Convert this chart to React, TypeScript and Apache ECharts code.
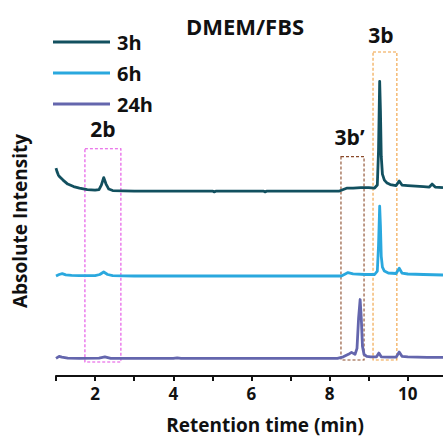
import React, { useEffect, useRef } from "react";
import * as echarts from "echarts";

// Chromatogram traces (retention time in min, intensity above each trace's baseline, a.u.)
const t3h = [1.0, 1.03, 1.06, 1.1, 1.18, 1.3, 1.45, 1.6, 1.8, 2.0, 2.1, 2.16, 2.22, 2.28, 2.35, 2.45, 3.0, 4.0, 5.0, 5.05, 5.1, 6.0, 6.3, 6.35, 6.4, 7.0, 8.0, 8.25, 8.35, 8.45, 8.6, 8.8, 9.0, 9.15, 9.22, 9.25, 9.28, 9.3, 9.32, 9.35, 9.4, 9.47, 9.55, 9.7, 9.78, 9.85, 10.0, 10.2, 10.4, 10.55, 10.62, 10.7, 10.9];
const v3h = [23, 19, 16, 14, 11, 7, 4.5, 3, 1.5, 1, 1.5, 6, 13.5, 7, 2, 0.5, 0, 0, 0, -0.8, 0, 0, 0, -0.8, 0, 0, 0, 0, 1.5, 3, 3, 3.5, 3.5, 3, 6, 40, 110, 80, 35, 17, 11, 8, 6.5, 5.5, 10, 6, 5.5, 5, 4.5, 4, 7, 4, 3.5];

const t6h = [1.0, 1.08, 1.16, 1.25, 1.4, 1.6, 2.0, 2.12, 2.22, 2.32, 2.45, 3, 4, 5, 6, 7, 8, 8.3, 8.4, 8.47, 8.6, 8.9, 9.15, 9.22, 9.25, 9.28, 9.3, 9.32, 9.35, 9.4, 9.5, 9.7, 9.78, 9.85, 10.0, 10.4, 10.9];
const v6h = [0, 1.5, 2.4, 1.2, 0.6, 0.3, 0.3, 1.5, 4, 1.5, 0.3, 0, 0, 0, 0, 0, 0, 0, 2, 3.4, 2.2, 1.5, 1.5, 5, 30, 70, 50, 20, 9, 5, 3, 2.5, 7.7, 3, 2, 1.5, 1];

const t24h = [1.0, 1.08, 1.15, 1.3, 1.6, 2.1, 2.25, 2.4, 3, 4, 4.1, 4.2, 5, 6, 7, 8, 8.2, 8.35, 8.48, 8.56, 8.65, 8.7, 8.74, 8.78, 8.81, 8.84, 8.88, 8.95, 9.05, 9.2, 9.26, 9.32, 9.5, 9.7, 9.78, 9.85, 10.0, 10.5, 10.9];
const v24h = [0, 2, 1.2, 0.3, 0, 0.3, 1.5, 0, 0, 0, 0.5, 0, 0, 0, 0, 0, 0, 1.5, 4, 6, 4, 10, 40, 59, 40, 12, 4, 2, 1.5, 1.5, 5.3, 1.5, 1.2, 1.2, 6.3, 2, 1.5, 1, 1];

// Vertical offsets used to stack the traces
const baseline3h = 185.5;
const baseline6h = 100.3;
const baseline24h = 17.7;

const seriesNames = ["3h", "6h", "24h"];
const seriesColors = ["#12505f", "#2aa8de", "#6466ad"];

// Highlighted peak regions
const regionLabels = ["2b", "3b\u2019", "3b"];
const regionStart = [1.74, 8.29, 9.11];
const regionEnd = [2.66, 8.88, 9.72];
const regionTop = [228, 220, 325];
const regionBottom = [14, 16, 16];
const regionColors = ["#e44de4", "#8a4a2a", "#f0a040"];

const FONT = "'Open Sans', 'DejaVu Sans', sans-serif";

function buildData(t: number[], v: number[], base: number) {
  return t.map((x, i) => [x, v[i] + base]);
}

export default function App() {
  const ref = useRef<HTMLDivElement>(null);

  useEffect(() => {
    document.body.style.margin = "0";
    if (!ref.current) return;
    const chart = echarts.init(ref.current, undefined, { renderer: "svg" });

    const markAreaData = regionLabels.map((name, i) => [
      {
        name,
        coord: [regionStart[i], regionTop[i]],
        itemStyle: {
          color: "rgba(0,0,0,0)",
          borderColor: regionColors[i],
          borderWidth: 1.1,
          borderType: [3, 2],
        },
        label: {
          show: true,
          position: "top" as const,
          distance: i === 2 ? 6 : 9,
          offset: i === 2 ? [-4, 0] : i === 1 ? [-3, 0] : [0, 0],
          color: "#111",
          fontSize: 21,
          fontWeight: "bold" as const,
          fontFamily: FONT,
        },
      },
      { coord: [regionEnd[i], regionBottom[i]] },
    ]);

    const lineSeries = [
      buildData(t3h, v3h, baseline3h),
      buildData(t6h, v6h, baseline6h),
      buildData(t24h, v24h, baseline24h),
    ].map((data, i) => ({
      name: seriesNames[i],
      type: "line" as const,
      data,
      showSymbol: false,
      smooth: false,
      lineStyle: { color: seriesColors[i], width: 2.8, join: "round" as const },
      itemStyle: { color: seriesColors[i] },
      z: 3,
      ...(i === 2
        ? {
            markArea: {
              silent: true,
              z: 2,
              data: markAreaData,
            },
          }
        : {}),
    }));

    chart.setOption({
      animation: false,
      backgroundColor: "#ffffff",
      textStyle: { fontFamily: FONT },
      grid: { left: 56, right: 0, top: 40, bottom: 62, containLabel: false },
      legend: {
        data: seriesNames,
        orient: "vertical",
        left: 53,
        top: 32,
        padding: 0,
        itemWidth: 57,
        itemHeight: 3,
        itemGap: 11,
        icon: "rect",
        textStyle: {
          fontSize: 20,
          fontWeight: "bold",
          color: "#111",
          fontFamily: FONT,
          lineHeight: 20,
          padding: [0, 0, 0, 2],
        },
        selectedMode: false,
      },
      xAxis: {
        type: "value",
        min: 1,
        max: 10.9,
        interval: 1,
        name: "Retention time (min)",
        nameLocation: "middle",
        nameGap: 39,
        nameTextStyle: {
          fontSize: 19,
          fontWeight: "bold",
          color: "#111",
          fontFamily: FONT,
          padding: [0, 0, 0, 31],
        },
        axisLine: { show: true, lineStyle: { color: "#111", width: 2 } },
        axisTick: { show: true, length: 5, lineStyle: { color: "#111", width: 2 } },
        axisLabel: {
          show: true,
          margin: 9,
          fontSize: 17,
          fontWeight: "bold",
          color: "#111",
          fontFamily: FONT,
          showMaxLabel: false,
          formatter: (val: number) => (Math.abs(val % 2) < 1e-9 ? String(val) : ""),
        },
        splitLine: { show: false },
      },
      yAxis: {
        type: "value",
        min: 0,
        max: 337,
        axisLine: { show: false },
        axisTick: { show: false },
        axisLabel: { show: false },
        splitLine: { show: false },
      },
      graphic: [
        {
          type: "text",
          x: 245,
          y: 26,
          style: {
            text: "DMEM/FBS",
            font: `bold 22px ${FONT}`,
            fill: "#111",
            textAlign: "center",
            textVerticalAlign: "middle",
          },
        },
        {
          type: "text",
          x: 20,
          y: 221,
          rotation: Math.PI / 2,
          style: {
            text: "Absolute Intensity",
            font: `bold 19px ${FONT}`,
            fill: "#111",
            textAlign: "center",
            textVerticalAlign: "middle",
          },
        },
      ],
      series: lineSeries,
    });

    return () => chart.dispose();
  }, []);

  return <div ref={ref} style={{ width: 443, height: 439 }} />;
}
